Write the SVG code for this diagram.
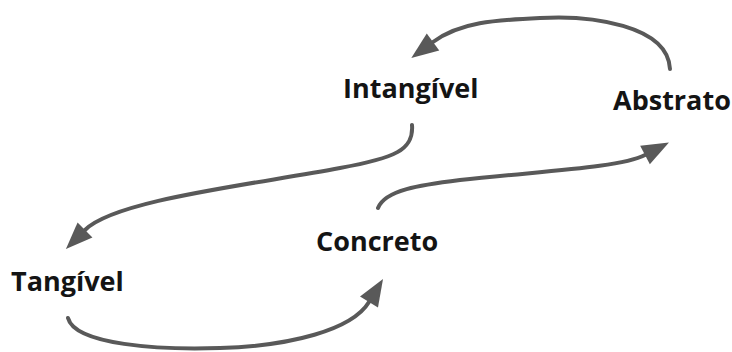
<svg xmlns="http://www.w3.org/2000/svg" width="732" height="352" viewBox="0 0 732 352">
  <style>
    .label { font-family: "Open Sans", "Noto Sans", "Liberation Sans", sans-serif; font-weight: 700; font-size: 27px; fill: #141414; }
    .link { fill: none; stroke: #595959; stroke-width: 4; stroke-linecap: round; }
  </style>
  <defs>
    <marker id="head" markerUnits="userSpaceOnUse" markerWidth="30" markerHeight="26" refX="0" refY="12" orient="auto" viewBox="0 0 30 24" overflow="visible">
      <path d="M0,1.5 L27,12 L0,22.5 z" fill="#595959"/>
    </marker>
  </defs>
  <rect width="732" height="352" fill="#ffffff"/>
  <g id="connectors">
    <path class="link" d="M670,69 C668,25 590,15 540,18 C495,20 460,22 433,42" marker-end="url(#head)"/>
    <path class="link" d="M412,125 C414,150 395,158 340,168 C250,185 115,200 85,230" marker-end="url(#head)"/>
    <path class="link" d="M68,318 C75,345 160,350 220,348 C290,346 352,330 369,302" marker-end="url(#head)"/>
    <path class="link" d="M378,208 C385,190 420,185 460,180 C540,171 620,168 645,155" marker-end="url(#head)"/>
  </g>
  <g id="intangivel"><text class="label" x="343" y="98">Intangível</text></g>
  <g id="abstrato"><text class="label" x="613" y="110">Abstrato</text></g>
  <g id="tangivel"><text class="label" x="11" y="291">Tangível</text></g>
  <g id="concreto"><text class="label" x="316" y="251">Concreto</text></g>
</svg>
